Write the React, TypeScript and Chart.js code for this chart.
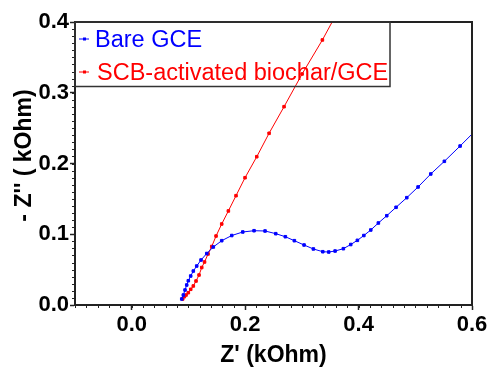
import React, { useEffect, useRef } from "react";
import { Chart, registerables } from "chart.js";

Chart.register(...registerables);

// ---- Data (kOhm) ----
const bareX = [0.0882, 0.091, 0.094, 0.097, 0.0998, 0.104, 0.1086, 0.1146, 0.1222, 0.1323, 0.1439, 0.1587, 0.1764, 0.1958, 0.2157, 0.2351, 0.254, 0.2709, 0.2868, 0.3039, 0.3203, 0.3369, 0.3474, 0.3586, 0.3732, 0.3862, 0.3979, 0.4093, 0.4215, 0.4349, 0.4497, 0.4661, 0.485, 0.5049, 0.5273, 0.5513, 0.579, 0.6072];
const bareY = [0.0085, 0.0141, 0.0212, 0.0283, 0.0343, 0.041, 0.048, 0.0551, 0.0636, 0.0728, 0.082, 0.0909, 0.0982, 0.1032, 0.105, 0.1046, 0.1008, 0.0965, 0.0909, 0.0848, 0.0792, 0.0753, 0.0749, 0.0763, 0.0796, 0.0855, 0.0914, 0.0982, 0.106, 0.1159, 0.1262, 0.1381, 0.1517, 0.1668, 0.1852, 0.2031, 0.2247, 0.2473];

const scbX = [0.0899, 0.0928, 0.0958, 0.0998, 0.1041, 0.1086, 0.1134, 0.1187, 0.1235, 0.1284, 0.1346, 0.1411, 0.1487, 0.1587, 0.1704, 0.1839, 0.1998, 0.2205, 0.2422, 0.2686, 0.3004, 0.3362, 0.3744];
const scbY = [0.0085, 0.0117, 0.0141, 0.0174, 0.0222, 0.0269, 0.0339, 0.0424, 0.053, 0.0608, 0.0721, 0.0827, 0.0975, 0.1145, 0.1329, 0.1545, 0.1799, 0.2096, 0.2427, 0.2803, 0.3265, 0.3746, 0.4311];

const seriesNames = ["Bare GCE", "SCB-activated biochar/GCE"];
const seriesColors = ["#0000ff", "#ff0000"];

const xTicks = [0.0, 0.2, 0.4, 0.6];
const yTicks = [0.0, 0.1, 0.2, 0.3, 0.4];
const xRange = [-0.1, 0.6];
const yRange = [0, 0.4];
const xMinorStep = 0.02;
const yMinorStep = 0.01;
const xTitle = "Z' (kOhm)";
const yTitle = "- Z'' ( kOhm)";

const FONT = "'Liberation Sans', Arial, sans-serif";

const framePlugin = {
  id: "frameAndMinor",
  afterDraw(chart: any) {
    const { ctx, chartArea } = chart;
    const { left, right, top, bottom } = chartArea;
    const xs = chart.scales.x;
    const ys = chart.scales.y;
    ctx.save();
    ctx.strokeStyle = "#222";
    ctx.lineWidth = 2;
    ctx.beginPath();
    ctx.moveTo(left, top);
    ctx.lineTo(right, top);
    ctx.lineTo(right, bottom);
    ctx.stroke();
    // minor ticks
    ctx.lineWidth = 1;
    ctx.beginPath();
    const nx = Math.round((xRange[1] - xRange[0]) / xMinorStep);
    for (let i = 0; i <= nx; i++) {
      const v = xRange[0] + i * xMinorStep;
      const px = Math.round(xs.getPixelForValue(v)) + 0.5;
      ctx.moveTo(px, bottom);
      ctx.lineTo(px, bottom + 3);
    }
    const ny = Math.round((yRange[1] - yRange[0]) / yMinorStep);
    for (let i = 0; i <= ny; i++) {
      const v = yRange[0] + i * yMinorStep;
      const py = Math.round(ys.getPixelForValue(v)) + 0.5;
      ctx.moveTo(left, py);
      ctx.lineTo(left - 3, py);
    }
    ctx.stroke();

    // y title
    ctx.save();
    ctx.translate(25, (top + bottom) / 2 - 8);
    ctx.rotate(-Math.PI / 2);
    ctx.font = `bold 23px ${FONT}`;
    ctx.fillStyle = "#000";
    ctx.textAlign = "center";
    ctx.textBaseline = "middle";
    ctx.fillText(yTitle, 0, 0);
    ctx.restore();

    // legend
    const lx = left;
    const ly = top;
    const lw = 315;
    const lh = 64.5;
    ctx.strokeStyle = "#333";
    ctx.lineWidth = 1.5;
    ctx.strokeRect(lx, ly, lw, lh);
    ctx.font = `23.5px ${FONT}`;
    ctx.textBaseline = "alphabetic";
    ctx.textAlign = "left";
    const rows = [
      { yc: ly + 17, base: ly + 25, tx: lx + 20 },
      { yc: ly + 50, base: ly + 58.3, tx: lx + 22 },
    ];
    seriesNames.forEach((name, i) => {
      const r = rows[i];
      ctx.strokeStyle = seriesColors[i];
      ctx.fillStyle = seriesColors[i];
      ctx.lineWidth = 1;
      ctx.beginPath();
      ctx.moveTo(lx + 4, r.yc);
      ctx.lineTo(lx + 14, r.yc);
      ctx.stroke();
      ctx.fillRect(lx + 8, r.yc - 1.5, 3, 3);
      ctx.fillText(name, r.tx, r.base);
    });
    ctx.restore();
  },
};

export default function App() {
  const canvasRef = useRef<HTMLCanvasElement | null>(null);

  useEffect(() => {
    if (!canvasRef.current) return;
    const mk = (xs: number[], ys: number[]) => xs.map((x, i) => ({ x, y: ys[i] }));
    const ds = (i: number, xs: number[], ys: number[]) =>
      ({
        label: seriesNames[i],
        data: mk(xs, ys),
        borderColor: seriesColors[i],
        backgroundColor: seriesColors[i],
        borderWidth: 1,
        pointStyle: "rect",
        pointRadius: 1.8,
        pointBorderWidth: 1,
        tension: 0,
        clip: 0,
      }) as any;
    const chart = new Chart(canvasRef.current, {
      type: "line",
      data: {
        datasets: [ds(0, bareX, bareY), ds(1, scbX, scbY)],
      },
      options: {
        animation: false,
        responsive: true,
        maintainAspectRatio: false,
        layout: { padding: { top: 22, right: 19, left: 0, bottom: 0 } },
        plugins: {
          legend: { display: false },
          tooltip: { enabled: false },
        },
        scales: {
          x: {
            type: "linear",
            min: xRange[0],
            max: xRange[1],
            afterBuildTicks: (s: any) => {
              s.ticks = xTicks.map((v) => ({ value: v }));
            },
            afterFit: (s: any) => {
              s.height = 62;
            },
            ticks: {
              color: "#000",
              font: { family: FONT, size: 22, weight: "bold" },
              padding: 2,
              maxRotation: 0,
              autoSkip: false,
              callback: (v: any) => Number(v).toFixed(1),
            },
            grid: {
              display: true,
              drawOnChartArea: false,
              drawTicks: true,
              tickLength: 5,
              tickColor: "#222",
              tickWidth: 1.5,
            },
            border: { display: true, color: "#222", width: 2 },
            title: {
              display: true,
              text: xTitle,
              color: "#000",
              font: { family: FONT, size: 23, weight: "bold", lineHeight: 1 },
              padding: { top: 0, bottom: 0 },
            },
          },
          y: {
            type: "linear",
            min: yRange[0],
            max: yRange[1],
            afterBuildTicks: (s: any) => {
              s.ticks = yTicks.map((v) => ({ value: v }));
            },
            afterFit: (s: any) => {
              s.width = 75;
            },
            ticks: {
              color: "#000",
              font: { family: FONT, size: 22, weight: "bold" },
              padding: 1,
              autoSkip: false,
              callback: (v: any) => Number(v).toFixed(1),
            },
            grid: {
              display: true,
              drawOnChartArea: false,
              drawTicks: true,
              tickLength: 5,
              tickColor: "#222",
              tickWidth: 1.5,
            },
            border: { display: true, color: "#222", width: 2 },
            title: { display: false },
          },
        },
      },
      plugins: [framePlugin],
    } as any);
    return () => chart.destroy();
  }, []);

  return (
    <div style={{ position: "absolute", left: 0, top: 0, width: 491, height: 367 }}>
      <canvas ref={canvasRef} />
    </div>
  );
}
